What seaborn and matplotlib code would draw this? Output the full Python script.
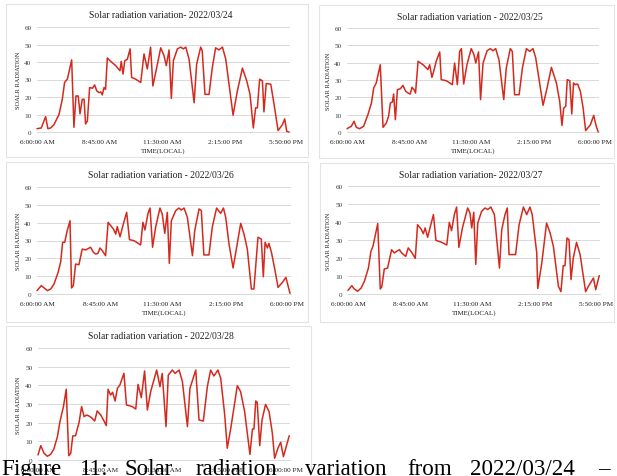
import matplotlib
matplotlib.use("Agg")
import matplotlib.pyplot as plt
import seaborn as sns
import pandas as pd
from matplotlib.patches import Rectangle

# ---------------- data (time index 0..100 across the day, radiation) ----------------
x_0324 = [0, 1.7, 3.4, 4.3, 5.4, 6.7, 8.7, 10.0, 10.9, 12.0, 13.7, 14.6, 15.4, 16.3, 17.0, 17.9, 18.6,
          19.2, 19.9, 20.8, 21.9, 22.8, 23.6, 24.5, 25.2, 25.8, 26.5, 27.1, 27.8, 29.1, 31.1, 32.8, 33.3,
          34.0, 34.7, 35.7, 36.8, 37.4, 39.0, 41.0, 42.3, 43.6, 44.9, 45.8, 47.6, 48.9, 50.2, 51.1, 52.2,
          53.1, 53.9, 55.5, 56.8, 57.8, 58.8, 60.1, 62.1, 63.1, 64.7, 65.3, 66.4, 68.0, 69.3, 70.6, 71.9,
          73.3, 74.6, 77.5, 79.2, 81.2, 82.9, 84.2, 85.5, 86.4, 87.1, 88.0, 89.1, 89.7, 90.6, 92.4, 93.7,
          95.3, 97.0, 97.9, 98.7, 99.6]
y_0324 = [1.9, 2.3, 8.8, 1.9, 2.3, 4.2, 10.0, 18.7, 28.3, 30.2, 41.2, 2.7, 20.6, 20.6, 10.4, 18.7, 18.7,
          4.6, 6.2, 25.4, 25.0, 26.9, 23.5, 22.5, 22.9, 21.2, 25.4, 24.4, 42.3, 40.4, 37.9, 35.0, 40.4,
          33.1, 40.8, 41.5, 47.5, 31.2, 30.2, 28.3, 44.6, 36.0, 48.5, 26.3, 38.8, 48.1, 43.7, 37.9, 46.9,
          19.2, 40.8, 47.5, 48.5, 47.5, 48.5, 41.7, 16.7, 38.8, 48.5, 46.5, 21.5, 21.5, 36.9, 48.1, 46.9,
          48.5, 41.7, 9.6, 23.5, 36.5, 29.2, 21.5, 2.3, 13.8, 13.8, 30.2, 29.2, 11.5, 27.7, 27.3, 15.8,
          0.8, 4.2, 7.5, 0.4, 0.0]

x_0325 = [0, 1.7, 2.8, 3.7, 5.0, 6.6, 8.3, 9.7, 10.6, 11.6, 13.2, 14.3, 15.6, 16.5, 17.2, 18.0, 18.5,
          19.2, 20.0, 21.2, 22.2, 23.3, 24.2, 25.1, 25.8, 26.6, 27.2, 28.2, 30.2, 32.1, 32.8, 33.7, 34.4,
          35.4, 36.8, 37.4, 39.4, 41.8, 42.7, 43.8, 44.7, 45.4, 46.3, 47.6, 49.3, 50.4, 51.1, 52.2, 53.0,
          54.0, 55.6, 56.9, 57.9, 59.0, 60.3, 62.2, 63.2, 64.8, 65.6, 66.5, 68.3, 69.6, 71.2, 72.5, 73.8,
          74.9, 77.8, 79.4, 81.1, 83.1, 84.4, 85.3, 86.0, 86.8, 87.4, 88.4, 89.2, 89.9, 90.6, 91.5, 92.6,
          93.7, 94.7, 96.6, 97.9, 98.9, 99.7]
y_0325 = [1.9, 3.3, 6.2, 2.7, 1.9, 3.3, 10.0, 16.7, 25.4, 28.3, 38.8, 2.7, 5.2, 9.0, 16.7, 17.3, 21.9,
          7.1, 24.4, 25.0, 26.9, 23.5, 22.5, 21.9, 25.8, 24.4, 22.5, 40.8, 38.8, 36.0, 38.8, 31.5, 35.0,
          40.8, 46.2, 30.2, 29.6, 27.3, 39.8, 27.3, 46.5, 48.1, 27.7, 38.8, 48.1, 44.6, 39.8, 46.2, 18.7,
          39.8, 46.9, 48.1, 46.9, 48.1, 41.7, 18.7, 36.9, 48.1, 46.5, 21.5, 21.5, 36.9, 48.1, 46.5, 48.1,
          42.7, 15.4, 25.4, 37.3, 28.3, 17.7, 3.8, 13.8, 14.8, 30.2, 29.6, 10.4, 28.3, 27.3, 27.7, 23.5,
          13.8, 0.8, 4.2, 9.6, 3.3, 0.0]

x_0326 = [0, 1.7, 2.8, 4.1, 5.4, 6.7, 8.3, 9.3, 10.1, 10.9, 11.9, 13.0, 13.6, 14.3, 15.2, 16.5, 17.8,
          19.2, 19.8, 21.1, 22.2, 23.1, 24.0, 24.8, 25.7, 27.0, 28.0, 30.1, 31.0, 31.6, 32.7, 34.0, 35.3,
          36.4, 38.2, 40.8, 41.7, 42.5, 43.7, 44.5, 45.5, 46.7, 48.4, 49.3, 50.3, 51.3, 52.1, 52.9, 54.6,
          55.9, 56.8, 57.9, 59.2, 61.2, 62.1, 63.8, 64.7, 65.7, 67.7, 69.0, 70.7, 72.3, 73.4, 74.3, 75.6,
          77.2, 78.6, 80.2, 81.5, 82.8, 84.4, 85.4, 87.0, 88.3, 89.1, 89.8, 90.7, 91.3, 92.3, 93.6, 94.9,
          96.6, 98.0, 99.6]
y_0326 = [1.9, 4.7, 3.4, 1.9, 2.8, 5.6, 12.1, 17.8, 29.0, 29.0, 35.5, 41.1, 3.4, 4.7, 16.8, 16.4, 25.2,
          24.7, 25.2, 26.2, 23.4, 22.4, 22.8, 25.8, 24.3, 21.5, 40.2, 36.4, 33.6, 37.8, 32.1, 39.3, 45.8,
          30.5, 29.9, 27.5, 40.2, 35.9, 45.2, 48.2, 26.2, 37.4, 48.2, 44.9, 34.0, 45.8, 17.2, 41.1, 46.7,
          48.2, 47.1, 48.2, 43.0, 21.5, 35.5, 47.7, 46.7, 21.9, 21.9, 37.4, 48.2, 45.2, 48.2, 43.0, 28.0,
          14.6, 26.2, 39.6, 33.6, 25.2, 2.8, 2.8, 31.8, 30.8, 9.7, 29.0, 25.8, 28.4, 23.4, 14.0, 3.7,
          6.5, 9.3, 0.4]

x_0327 = [0, 1.5, 2.5, 3.8, 5.2, 6.5, 8.1, 9.1, 9.9, 11.8, 12.8, 13.4, 14.4, 15.7, 17.3, 18.4, 19.3,
          20.4, 21.3, 22.9, 23.9, 25.3, 26.7, 27.6, 29.0, 29.9, 30.6, 31.6, 32.7, 33.9, 34.9, 37.2, 39.2,
          40.2, 41.1, 42.2, 43.1, 44.0, 45.4, 47.5, 48.4, 49.1, 49.9, 50.7, 51.5, 53.0, 54.4, 55.4, 56.7,
          58.1, 60.1, 61.0, 62.3, 63.2, 63.9, 66.5, 67.9, 69.6, 70.9, 72.2, 73.1, 74.9, 75.3, 76.9, 78.8,
          80.2, 81.5, 83.5, 84.5, 85.4, 86.1, 86.9, 87.7, 88.5, 89.4, 90.7, 92.1, 93.0, 94.3, 95.4, 97.4,
          98.3, 99.7]
y_0327 = [2.0, 4.6, 2.8, 1.5, 3.3, 7.0, 14.4, 23.7, 26.5, 39.1, 2.8, 3.9, 13.9, 14.4, 24.6, 22.8, 23.7,
          24.6, 22.8, 20.9, 25.6, 23.1, 19.8, 38.5, 36.1, 33.5, 36.7, 31.5, 37.6, 44.1, 29.8, 28.7, 27.2,
          39.8, 35.2, 44.1, 48.3, 25.9, 36.7, 47.8, 45.0, 36.7, 45.4, 16.5, 39.4, 45.9, 47.8, 46.9, 48.3,
          44.1, 14.4, 35.7, 44.1, 47.8, 21.9, 21.9, 38.5, 48.3, 44.1, 48.3, 44.1, 22.8, 3.1, 17.2, 39.4,
          33.9, 26.5, 4.3, 1.3, 15.7, 15.7, 31.1, 30.2, 8.0, 20.0, 28.7, 21.9, 13.5, 1.3, 4.3, 8.9,
          2.4, 10.2]

x_0328 = [0, 1.1, 2.4, 3.7, 5.0, 6.3, 7.7, 8.7, 10.1, 11.2, 12.2, 13.0, 13.8, 14.9, 16.3, 17.3, 18.3,
          19.3, 20.2, 21.2, 22.5, 23.5, 24.9, 26.2, 27.1, 27.8, 28.8, 29.6, 30.6, 31.5, 32.5, 34.1, 35.1,
          37.4, 38.8, 39.7, 41.0, 42.3, 43.4, 44.7, 47.1, 48.4, 49.3, 50.8, 51.7, 53.3, 54.4, 56.0, 57.3,
          59.3, 60.3, 62.6, 63.9, 65.6, 67.2, 68.5, 69.8, 71.4, 72.5, 74.1, 75.1, 76.5, 79.1, 80.4, 82.0,
          84.1, 85.1, 85.7, 86.4, 87.0, 88.0, 88.9, 90.3, 91.7, 93.0, 93.9, 95.2, 96.3, 97.4, 99.7]
y_0328 = [2.7, 7.7, 3.6, 2.0, 3.0, 5.9, 12.5, 20.5, 28.6, 37.9, 2.3, 3.6, 12.9, 13.0, 20.2, 28.6, 23.2,
          24.1, 23.6, 22.7, 20.9, 26.3, 24.1, 20.9, 18.4, 37.9, 34.8, 36.3, 31.6, 38.4, 40.2, 46.4, 29.5,
          28.6, 27.3, 40.5, 33.4, 47.7, 26.8, 36.6, 48.2, 39.3, 46.4, 17.9, 45.5, 48.2, 46.4, 48.2, 42.0,
          17.9, 38.4, 48.2, 21.4, 20.9, 39.3, 48.2, 45.0, 48.2, 43.8, 24.1, 6.3, 17.0, 39.8, 36.6, 25.9,
          3.0, 16.6, 16.6, 31.6, 30.9, 7.7, 21.4, 29.8, 25.9, 14.3, 0.9, 6.3, 9.5, 1.8, 13.0]

titles = ["Solar radiation variation- 2022/03/24", "Solar radiation variation - 2022/03/25",
          "Solar radiation variation - 2022/03/26", "Solar radiation variation- 2022/03/27",
          "Solar radiation variation - 2022/03/28"]
ylabels = ["SOALR RADIATION", "SOLAR RADIATION", "SOLAR RADIATION", "SOLAR RADIATION", "SOLAR RADIATION"]
xlabel = "TIME(LOCAL)"
tick_labels = [
    ["6:00:00 AM", "8:45:00 AM", "11:30:00 AM", "2:15:00 PM", "5:50:00 PM"],
    ["6:00:00 AM", "8:45:00 AM", "11:30:00 AM", "2:15:00 PM", "6:00:00 PM"],
    ["6:00:00 AM", "8:45:00 AM", "11:30:00 AM", "2:15:00 PM", "6:00:00 PM"],
    ["6:00:00 AM", "8:45:00 AM", "11:30:00 AM", "2:15:00 PM", "5:50:00 PM"],
    ["6:00:00 AM", "8:45:00 AM", "11:30:00 AM", "2:15:00 PM", "6:00:00 PM"],
]
tick_pos = [0, 24.9, 49.4, 74.3, 98.4]
y_ticks = [0, 10, 20, 30, 40, 50, 60]
caption_words = ["Figure", "11:", "Solar", "radiation", "variation", "from", "2022/03/24", "–"]

series = [(x_0324, y_0324), (x_0325, y_0325), (x_0326, y_0326), (x_0327, y_0327), (x_0328, y_0328)]

# ---------------- style ----------------
sns.set_theme(style="white")
plt.rcParams["font.family"] = ["Liberation Serif", "DejaVu Serif"]

W, H = 617, 477
fig = plt.figure(figsize=(W / 100, H / 100), dpi=100)
fig.patch.set_facecolor("white")

def fx(px):
    return px / W

def fy(py):
    return 1 - py / H

# axes boxes in pixels: left, top, right, bottom
boxes = [(37, 28, 290, 133), (347, 29, 599, 133), (37, 188, 291, 295),
         (348, 187, 600, 295), (38, 349, 290, 461)]
frames = [(6, 5, 308, 158), (319, 6, 614, 159), (6, 163, 308, 323),
          (320, 164, 614, 323), (6, 327, 311, 477)]

LINE = "#D42A1E"
GRID = "#D9D9D9"
TXT = "#404040"

for (fl, ft, fr, fb) in frames:
    fig.patches.append(Rectangle((fx(fl), fy(fb)), fx(fr) - fx(fl), fy(ft) - fy(fb),
                                 transform=fig.transFigure, fill=False,
                                 edgecolor="#E3E3E3", linewidth=0.8, zorder=0))

for i, ((l, t, r, b), (xs, ys)) in enumerate(zip(boxes, series)):
    ax = fig.add_axes([fx(l), fy(b), fx(r) - fx(l), fy(t) - fy(b)])
    ax.set_facecolor("none")
    df = pd.DataFrame({"t": xs, "v": ys})
    sns.lineplot(data=df, x="t", y="v", ax=ax, color=LINE, linewidth=1.1,
                 estimator=None, sort=False, clip_on=False, zorder=3)
    ax.set_xlim(0, 100)
    ax.set_ylim(0, 60)
    ax.set_yticks(y_ticks)
    ax.set_yticklabels([str(v) for v in y_ticks], fontsize=5.2, color=TXT)
    ax.set_xticks(tick_pos)
    ax.set_xticklabels(tick_labels[i], fontsize=5.2, color="#202020")
    ax.tick_params(axis="both", length=0, pad=4)
    ax.tick_params(axis="x", pad=5)
    ax.grid(axis="y", color=GRID, linewidth=0.7)
    for s in ["top", "right", "left"]:
        ax.spines[s].set_visible(False)
    ax.spines["bottom"].set_color(GRID)
    ax.spines["bottom"].set_linewidth(0.7)
    ax.set_xlabel("")
    ax.set_ylabel("")
    # title, axis labels
    cx = (l + r) / 2
    fig.text(fx(cx - 3), fy(t - 12), titles[i], ha="center", va="center",
             fontsize=6.9, color="#202020")
    fig.text(fx(l - 19), fy((t + b) / 2), ylabels[i], rotation=90, ha="center", va="center",
             fontsize=4.6, color="#202020")
    fig.text(fx(cx), fy(b + 18), xlabel, ha="center", va="center",
             fontsize=5.0, color="#202020")

# caption (justified across the width)
cap_x = [1, 80, 125, 196, 305, 407, 470, 598]
for word, px in zip(caption_words, cap_x):
    fig.text(fx(px), fy(475), word, ha="left", va="baseline", fontsize=16.6,
             color="black", zorder=10)

fig.savefig("out.png", dpi=100, facecolor="white")
